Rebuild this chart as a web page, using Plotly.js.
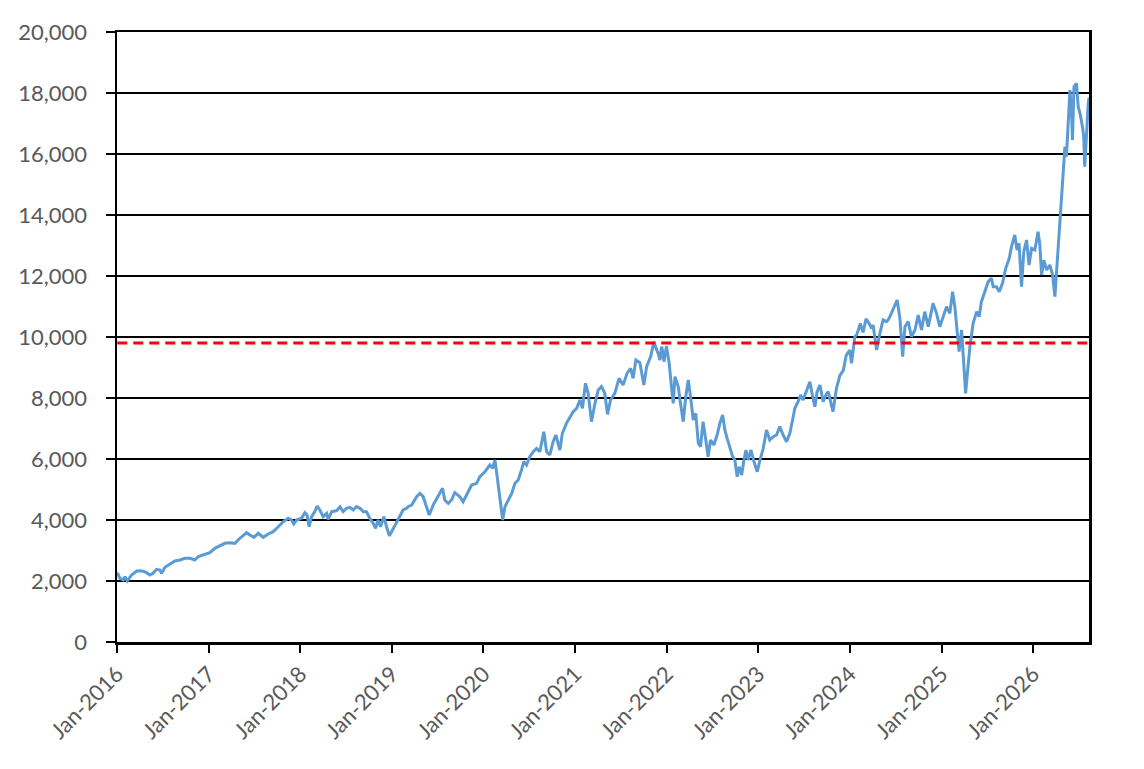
<!DOCTYPE html>
<html>
<head>
<meta charset="utf-8">
<script src="https://cdn.plot.ly/plotly-3.0.1.min.js"></script>
<style>
  html, body { margin: 0; padding: 0; background: #fff; }
  #chart { width: 1144px; height: 769px; }
</style>
</head>
<body>
<div id="chart"></div>
<script>
// fechas de la serie (lectura aproximada de la imagen)
var fechas = [
    '2016-01-02','2016-01-13','2016-01-26','2016-02-02','2016-02-11','2016-02-28','2016-03-20','2016-04-08',
    '2016-04-28','2016-05-11','2016-05-24','2016-06-07','2016-06-20','2016-06-27','2016-07-10','2016-07-30',
    '2016-08-19','2016-09-08','2016-09-28','2016-10-18','2016-11-06','2016-11-20','2016-12-10',
    '2017-01-05','2017-01-25','2017-02-14','2017-03-06','2017-03-26','2017-04-15','2017-05-05','2017-06-01',
    '2017-06-14','2017-06-30','2017-07-17','2017-08-06','2017-08-26','2017-09-15','2017-10-05','2017-10-25',
    '2017-11-14','2017-11-27','2017-12-06','2017-12-17',
    '2018-01-06','2018-01-19','2018-01-28','2018-02-05','2018-02-15','2018-02-28','2018-03-09','2018-03-20',
    '2018-04-02','2018-04-16','2018-04-22','2018-05-06','2018-05-26','2018-06-08','2018-06-21','2018-07-04',
    '2018-07-18','2018-07-31','2018-08-13','2018-08-27','2018-09-09','2018-09-22','2018-10-05','2018-10-19',
    '2018-10-28','2018-11-07','2018-11-17','2018-11-30','2018-12-11','2018-12-22','2018-12-31',
    '2019-01-06','2019-01-13','2019-01-26','2019-02-09','2019-02-15','2019-03-01','2019-03-07','2019-03-21',
    '2019-04-10','2019-04-23','2019-05-06','2019-05-19','2019-05-30','2019-06-15','2019-07-05','2019-07-22',
    '2019-07-31','2019-08-14','2019-08-27','2019-09-09','2019-09-29','2019-10-12','2019-10-26','2019-11-15',
    '2019-12-05','2019-12-18',
    '2020-01-07','2020-01-27','2020-02-07','2020-02-16','2020-02-25','2020-03-07','2020-03-18','2020-03-27',
    '2020-04-09','2020-04-23','2020-05-06','2020-05-19','2020-06-01','2020-06-10','2020-06-21','2020-07-04',
    '2020-07-18','2020-07-31','2020-08-13','2020-08-29','2020-09-09','2020-09-22','2020-10-05','2020-10-16',
    '2020-11-01','2020-11-11','2020-11-27','2020-12-11','2020-12-24',
    '2021-01-07','2021-01-20','2021-01-30','2021-02-11','2021-02-22','2021-03-07','2021-03-21','2021-04-03',
    '2021-04-16','2021-04-29','2021-05-10','2021-05-22','2021-06-08','2021-06-25','2021-07-11','2021-07-27',
    '2021-08-10','2021-08-20','2021-08-31','2021-09-16','2021-10-02','2021-10-13','2021-10-29','2021-11-11',
    '2021-11-22','2021-11-28','2021-12-05','2021-12-12','2021-12-16','2021-12-21','2021-12-31',
    '2022-01-11','2022-01-20','2022-01-27','2022-02-03','2022-02-16','2022-02-25','2022-03-08','2022-03-18',
    '2022-03-28','2022-04-06','2022-04-17','2022-04-27','2022-05-07','2022-05-16','2022-05-26','2022-06-06',
    '2022-06-15','2022-06-25','2022-07-08','2022-07-21','2022-08-01','2022-08-12','2022-08-21','2022-08-30',
    '2022-09-10','2022-09-21','2022-09-30','2022-10-09','2022-10-17','2022-10-27','2022-11-05','2022-11-13',
    '2022-11-22','2022-12-03','2022-12-15','2022-12-28',
    '2023-01-08','2023-01-21','2023-02-03','2023-02-16','2023-03-02','2023-03-15','2023-03-28','2023-04-10',
    '2023-04-24','2023-05-07','2023-05-18','2023-05-27','2023-06-09','2023-06-19','2023-06-29','2023-07-13',
    '2023-07-26','2023-08-06','2023-08-15','2023-08-24','2023-09-04','2023-09-17','2023-09-28','2023-10-07',
    '2023-10-20','2023-10-26','2023-11-09','2023-11-23','2023-12-06','2023-12-18',
    '2024-01-01','2024-01-08','2024-01-21','2024-01-28','2024-02-04','2024-02-12','2024-02-23','2024-03-06',
    '2024-03-18','2024-03-28','2024-04-03','2024-04-17','2024-04-30','2024-05-13','2024-05-27','2024-06-02',
    '2024-06-09','2024-06-22','2024-07-08','2024-07-19','2024-07-30','2024-08-08','2024-08-21','2024-09-03',
    '2024-09-17','2024-09-30','2024-10-13','2024-10-26','2024-11-09','2024-11-28','2024-12-12','2024-12-25',
    '2025-01-07','2025-01-21','2025-02-03','2025-02-14','2025-02-23','2025-03-02','2025-03-12','2025-03-22',
    '2025-03-31','2025-04-07','2025-04-13','2025-04-24','2025-05-07','2025-05-21','2025-05-31','2025-06-09',
    '2025-06-23','2025-07-06','2025-07-19','2025-07-26','2025-08-08','2025-08-19','2025-09-01','2025-09-14',
    '2025-09-28','2025-10-07','2025-10-20','2025-10-29','2025-11-06','2025-11-16','2025-11-25','2025-12-06',
    '2025-12-16','2025-12-26',
    '2026-01-08','2026-01-21','2026-01-28','2026-02-04','2026-02-13','2026-02-24','2026-03-09','2026-03-20',
    '2026-03-29','2026-04-05','2026-04-15','2026-04-25','2026-05-01','2026-05-08','2026-05-14','2026-05-21',
    '2026-05-28','2026-06-03','2026-06-07','2026-06-13','2026-06-23','2026-06-30','2026-07-07','2026-07-17',
    '2026-07-22','2026-07-26','2026-08-02','2026-08-09','2026-08-12'
];

// valores de la serie
var valores = [
    2272,2088,2033,2141,2000,2197,2328,2338,
    2272,2197,2252,2383,2360,2252,2449,2557,
    2656,2689,2743,2743,2689,2798,2852,
    2928,3072,3157,3236,3256,3236,3400,3584,
    3508,3433,3564,3433,3541,3617,3780,3944,
    4056,4000,3869,4000,
    4056,4240,4164,3780,4109,4273,4459,4328,
    4109,4219,4022,4273,4306,4437,4273,4383,
    4416,4328,4437,4383,4273,4273,4056,3891,
    3727,4000,3780,4109,3780,3480,3617,
    3710,3836,4030,4273,4328,4383,4437,4492,
    4765,4875,4765,4437,4164,4492,4765,5039,
    4656,4547,4656,4896,4765,4601,4820,5148,
    5203,5420,
    5584,5803,5694,5967,5420,4656,4000,4437,
    4656,4875,5203,5311,5639,5912,5803,6076,
    6240,6350,6240,6895,6240,6131,6567,6787,
    6295,6842,7170,7387,7551,
    7661,7934,7661,8482,8154,7223,7826,8262,
    8372,8154,7465,7934,8154,8645,8426,8809,
    8973,8645,9246,9160,8426,9030,9355,9846,
    9574,9465,9246,9683,9520,9191,9700,
    9137,8372,7826,8700,8372,7826,7223,8044,
    8590,8044,7279,7497,6516,6404,7223,6623,
    6076,6623,6459,6787,7170,7443,6951,6678,
    6350,6076,5967,5420,5748,5475,5967,6295,
    5967,6295,5912,5584,
    5967,6350,6951,6623,6733,6787,7061,6787,
    6567,6842,7279,7661,7879,8098,7934,8262,
    8536,8044,7715,8208,8426,7880,8098,8208,
    7715,7551,8320,8750,8900,9400,
    9574,9137,10010,10066,10229,10448,10150,10600,
    10448,10284,10393,9574,10120,10557,10502,10557,
    10666,10939,11213,10612,9355,10339,10502,10010,
    10229,10721,10229,10830,10339,11104,10776,10339,
    10666,10993,10776,11486,10993,10339,9519,10229,
    8918,8154,8700,9683,10448,10830,10666,11158,
    11500,11814,11924,11650,11650,11486,11760,12252,
    12580,12961,13344,12852,13071,11650,12800,13180,
    12361,12907,
    12852,13453,13016,12033,12520,12197,12361,12033,
    11322,12197,13600,14600,15694,16240,15912,17224,
    18098,17443,16459,18207,18316,17552,17333,16896,
    16568,15584,16896,17661,17850
];

// linea de referencia
var referencia = 9800;
var rangoFechas = ['2016-01-01', '2026-08-12'];

var fuente = {family: 'Lato, "Open Sans", sans-serif', size: 22, color: '#595959'};

var serie = {
    x: fechas,
    y: valores,
    type: 'scatter',
    mode: 'lines',
    line: {color: '#5B9BD5', width: 3},
    hoverinfo: 'skip'
};

var lineaRef = {
    x: [fechas[0], fechas[fechas.length - 1]],
    y: [referencia, referencia],
    type: 'scatter',
    mode: 'lines',
    line: {color: '#FF0000', width: 3, dash: '10px,6px'},
    hoverinfo: 'skip'
};

var layout = {
    width: 1144,
    height: 769,
    margin: {l: 117, r: 55, t: 32, b: 127},
    paper_bgcolor: '#fff',
    plot_bgcolor: '#fff',
    showlegend: false,
    font: fuente,
    xaxis: {
        type: 'date',
        range: rangoFechas,
        tickvals: ['2016-01-01','2017-01-01','2018-01-01','2019-01-01','2020-01-01','2021-01-01',
                   '2022-01-01','2023-01-01','2024-01-01','2025-01-01','2026-01-01'],
        tickformat: '%b-%Y',
        tickangle: -45,
        ticks: 'outside',
        ticklen: 8,
        tickwidth: 2,
        tickcolor: '#000',
        showgrid: false,
        showline: true,
        linecolor: '#000',
        linewidth: 2.5,
        mirror: true,
        zeroline: false,
        tickfont: fuente
    },
    yaxis: {
        range: [0, 20000],
        dtick: 2000,
        tickformat: ',d',
        ticks: 'outside',
        ticklen: 9,
        tickwidth: 2,
        tickcolor: '#000',
        ticklabelstandoff: 14,
        showgrid: true,
        gridcolor: '#000',
        gridwidth: 1.6,
        showline: true,
        linecolor: '#000',
        linewidth: 2.5,
        mirror: true,
        zeroline: false,
        tickfont: fuente
    }
};

Plotly.newPlot('chart', [serie, lineaRef], layout, {staticPlot: true});
</script>
</body>
</html>
